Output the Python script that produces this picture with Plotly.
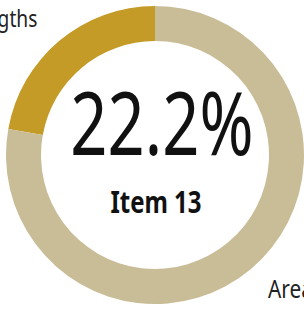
import plotly.graph_objects as go

labels = ["Item 13", "Rest"]
values = [22.2, 77.8]
colors = ["#C49B27", "#C9BD98"]
center_value = "22.2%"
center_label = "Item 13"
left_label = "Strengths"
right_label = "Area of<br>improvement"

W, H = 304, 313
fig = go.Figure(go.Pie(
    labels=labels, values=values, hole=0.765, sort=False,
    direction="clockwise", rotation=-360 * values[0] / sum(values),
    marker=dict(colors=colors, line=dict(width=0)),
    textinfo="none", hoverinfo="skip", showlegend=False,
    domain=dict(x=[6 / W, 1.0], y=[(H - 305) / H, (H - 5) / H]),
))

ff = "Noto Sans, Open Sans, sans-serif"

fig.add_annotation(text=center_value, x=162 / W, y=1 - 121 / H, xref="paper", yref="paper",
                   showarrow=False, font=dict(size=88, color="#111111", family=ff),
                   xanchor="center", yanchor="middle")
fig.add_annotation(text="<b>" + center_label + "</b>", x=156 / W, y=1 - 201 / H, xref="paper", yref="paper",
                   showarrow=False, font=dict(size=30, color="#111111", family=ff),
                   xanchor="center", yanchor="middle")
fig.add_annotation(text=left_label, x=39 / W, y=1 - 18 / H, xref="paper", yref="paper",
                   showarrow=False, font=dict(size=24, color="#222222", family=ff),
                   xanchor="right", yanchor="middle")
fig.add_annotation(text=right_label, x=266 / W, y=1 - 268 / H, xref="paper", yref="paper",
                   showarrow=False, font=dict(size=26, color="#222222", family=ff),
                   xanchor="left", yanchor="top", align="left")

fig.update_layout(width=W, height=H, margin=dict(l=0, r=0, t=0, b=0),
                  paper_bgcolor="white", plot_bgcolor="white")

post = """
document.body.style.margin='0';
var cfg = [[0.74,'center'],[0.80,'center'],[0.80,'right'],[0.80,'left']];
var ts = document.querySelectorAll('.annotation-text');
ts.forEach(function(t, i){
  var c = cfg[i] || [1,'center'];
  t.style.transformBox = 'fill-box';
  t.style.transformOrigin = c[1] + ' center';
  t.style.transform = 'scaleX(' + c[0] + ')';
});
"""
fig.write_html("out.html", post_script=post, config={"displayModeBar": False})
